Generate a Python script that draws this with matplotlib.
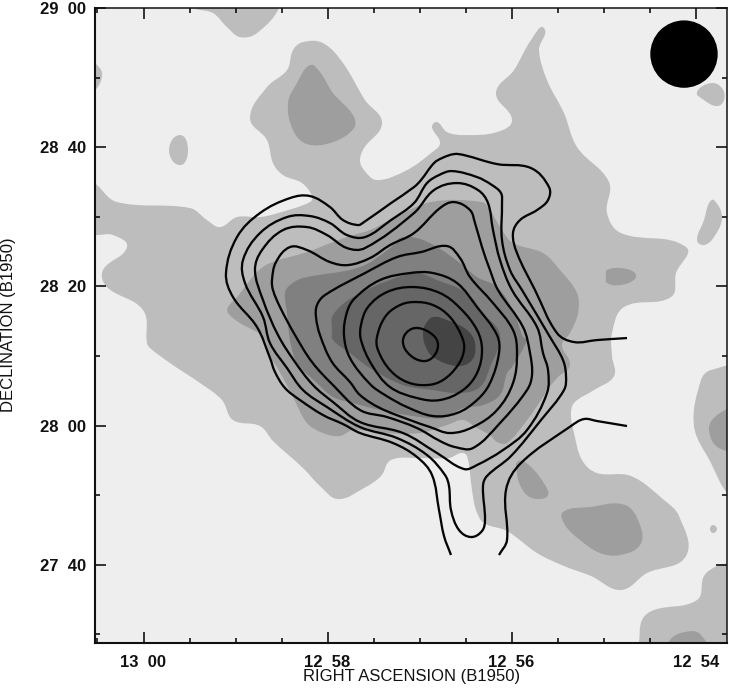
import numpy as np
import matplotlib
matplotlib.use("Agg")
import matplotlib.pyplot as plt
from matplotlib.path import Path
from matplotlib.patches import PathPatch, Ellipse

plt.rcParams['font.family'] = ['Liberation Sans', 'DejaVu Sans']

# Read-off plate positions (column, row) of each grey-scale boundary
level1_main = [(88,177),(97,185),(117,202),(190,208),(207,220),(220,227),(237,217),(260,217),(278,213),(310,202),(312,196),(302,183),(283,175),(273,163),(267,140),(250,118),(267,87),(287,70),(293,50),(303,42),(323,43),(343,63),(365,100),(382,123),(364,148),(360,160),(364,170),(377,180),(407,170),(431,153),(440,143),(432,127),(437,122),(447,132),(464,135),(497,132),(512,120),(496,93),(514,70),(531,40),(544,28),(539,50),(547,80),(564,113),(577,147),(609,182),(607,213),(621,233),(686,247),(676,273),(671,297),(624,307),(612,333),(612,356),(614,376),(594,390),(574,403),(571,416),(574,433),(582,460),(597,473),(631,476),(664,500),(679,516),(686,556),(647,573),(621,590),(591,576),(564,566),(537,553),(507,531),(484,523),(476,510),(472,490),(467,456),(461,453),(449,458),(421,458),(391,460),(381,476),(364,488),(338,499),(320,486),(303,468),(273,441),(260,426),(233,420),(222,400),(200,383),(170,363),(150,348),(147,343),(143,310),(107,287),(103,270),(127,247),(113,235),(97,235),(85,235),(80,205)]
level1_top = [(190,5),(213,13),(227,27),(240,37),(257,33),(280,5),(270,-5),(200,-5)]
level1_edge = [(88,60),(95,63),(102,73),(97,88),(88,92)]
level1_spot = [(180,135),(188,150),(180,165),(169,150)]
level1_beam = [(711,83),(722,88),(724,100),(717,106),(704,100),(697,92)]
level1_right = [(714,200),(722,217),(714,237),(704,245),(697,240),(704,220),(709,203)]
level1_lower = [(740,370),(711,370),(701,380),(694,426),(711,463),(727,493),(740,500)]
level1_dot = [(713,525),(717,529),(713,533),(710,529)]
level1_corner = [(637,655),(639,643),(642,620),(654,610),(697,600),(704,576),(717,566),(729,563),(745,560),(745,655)]

level2_top = [(310,65),(320,72),(333,93),(353,115),(354,128),(333,142),(307,144),(293,130),(288,103),(297,83)]
level2_main = [(228,307),(237,297),(257,272),(270,263),(307,252),(333,242),(353,235),(370,230),(390,220),(431,202),(482,202),(490,210),(502,230),(513,243),(543,253),(560,270),(577,293),(578,313),(570,333),(562,345),(570,365),(558,377),(547,390),(543,397),(527,420),(507,443),(497,442),(490,435),(477,428),(463,420),(447,425),(420,433),(385,433),(353,430),(340,436),(323,433),(307,423),(293,397),(277,367),(270,357),(263,337),(240,323),(228,313)]
level2_spot = [(607,270),(620,268),(634,272),(635,279),(620,285),(607,283),(606,276)]
level2_lobe = [(518,461),(530,466),(545,485),(548,495),(540,499),(528,496),(520,485),(517,473)]
level2_south = [(563,512),(590,507),(625,505),(640,525),(640,545),(620,555),(600,553),(580,540),(565,525)]
level2_east = [(740,405),(725,410),(712,420),(709,430),(715,445),(729,452),(740,455)]
level2_corner = [(668,655),(670,640),(685,632),(700,634),(707,655)]

level3_main = [(285,293),(290,285),(303,278),(360,267),(390,248),(400,238),(417,238),(437,247),(460,263),(477,277),(497,287),(513,310),(523,337),(527,340),(512,367),(507,373),(500,395),(483,405),(463,408),(443,418),(420,417),(380,410),(353,403),(333,397),(317,383),(297,363),(290,340),(287,313)]
level4_main = [(332,330),(333,315),(353,297),(390,280),(417,273),(437,280),(467,293),(483,313),(500,335),(490,367),(480,387),(460,393),(433,390),(403,385),(370,368),(350,353),(333,340)]
level5_main = [(425,325),(433,317),(447,320),(467,330),(475,343),(472,360),(457,366),(433,357),(425,345),(423,333)]

# Read-off contour traces
ring1 = [(418,328),(433,335),(438,345),(433,357),(423,361),(410,355),(403,343),(407,332)]
ring2 = [(413,302),(433,305),(450,317),(462,337),(464,350),(458,365),(443,380),(427,385),(407,382),(390,370),(378,350),(377,337),(385,317),(398,306)]
ring3 = [(413,287),(440,293),(460,308),(477,330),(482,350),(477,373),(463,390),(440,400),(417,398),(390,387),(372,365),(361,340),(361,325),(368,307),(387,292)]
ring4 = [(410,273),(433,273),(457,283),(477,307),(497,335),(499,353),(490,383),(477,400),(457,413),(433,416),(407,407),(385,395),(370,384),(350,358),(344,335),(347,312),(355,298),(380,280)]
ring5 = [(316,317),(317,305),(325,295),(365,273),(397,257),(421,252),(447,246),(460,258),(470,277),(493,303),(513,330),(517,353),(513,383),(497,410),(473,427),(450,433),(430,427),(410,420),(380,408),(360,395),(350,382),(332,362),(320,335)]
ring6 = [(272,280),(276,262),(290,247),(307,250),(330,262),(348,265),(370,258),(390,245),(414,233),(440,208),(454,202),(470,210),(475,223),(482,247),(490,270),(498,290),(523,327),(530,353),(532,375),(527,390),(500,423),(473,448),(455,447),(440,441),(417,428),(387,417),(360,410),(333,385),(312,362),(295,335),(280,307),(273,290)]
ring7 = [(255,270),(262,250),(283,230),(307,227),(327,235),(347,248),(365,248),(414,213),(434,190),(457,183),(478,190),(488,203),(493,230),(500,260),(512,290),(537,327),(543,353),(548,370),(547,393),(527,430),(503,450),(477,465),(464,469),(437,453),(403,433),(360,422),(333,402),(313,385),(295,362),(278,335),(263,300)]
ring8 = [(243,260),(260,233),(287,217),(310,216),(330,223),(347,235),(365,237),(391,220),(414,203),(427,183),(439,175),(452,171),(477,177),(492,185),(501,193),(502,203),(502,240),(510,270),(522,290),(550,337),(563,360),(566,376),(564,390),(541,420),(511,456),(487,476),(483,486),(485,520),(482,531),(471,537),(459,530),(451,510),(449,486),(445,475),(427,455),(397,438),(360,427),(327,407),(303,390),(287,368),(270,343),(263,317),(245,283)]
tail_north = [(627,338),(597,340),(574,342),(557,333),(535,290),(517,253),(513,233),(520,220),(537,210),(548,200),(549,187),(531,168),(497,164),(464,155),(454,154),(442,158),(434,163),(421,180),(414,187),(391,203),(364,222),(358,225),(343,220),(330,207),(310,196),(290,198),(260,213),(237,237),(226,273),(233,297),(257,327),(270,358),(275,372),(285,388),(300,400),(323,415),(343,424),(360,433),(393,443),(417,457),(432,475),(439,510),(444,536),(451,555)]
tail_south = [(627,426),(597,421),(584,419),(571,426),(521,463),(506,490),(507,540),(499,555)]

beam_centre = (684, 54)
beam_radius = 33

ra_major = [780, 778, 776, 774]
ra_major_labels = ['13  00', '12  58', '12  56', '12  54']
ra_minor = [780.5, 779.5, 779, 778.5, 777.5, 777, 776.5, 775.5, 775, 774.5]
dec_major = [1740, 1720, 1700, 1680, 1660]
dec_major_labels = ['29  00', '28  40', '28  20', '28  00', '27  40']
dec_minor = [1730, 1710, 1690, 1670, 1650]

greys = ['#eeeeee', '#bdbdbd', '#9e9e9e', '#808080', '#666666', '#444444']


def ra_of(col):
    return 780 - (np.asarray(col, float) - 143.5) / 92.03


def dec_of(row):
    return 1660 + (564.7 - np.asarray(row, float)) / 6.959


def smooth(points, closed=True):
    """Bezier path through the read-off points, expressed in RA / Dec."""
    p = np.array(points, float)
    n = len(p)
    if closed:
        chord = np.roll(p, -1, axis=0) - np.roll(p, 1, axis=0)
    else:
        chord = np.empty_like(p)
        chord[1:-1] = p[2:] - p[:-2]
        chord[0], chord[-1] = p[1] - p[0], p[-1] - p[-2]
    unit = chord / np.maximum(np.hypot(*chord.T), 1e-9)[:, None]
    verts, codes = [p[0]], [Path.MOVETO]
    for i in range(n if closed else n - 1):
        j = (i + 1) % n
        h = np.hypot(*(p[j] - p[i])) * 0.36
        verts += [p[i] + unit[i] * h, p[j] - unit[j] * h, p[j]]
        codes += [Path.CURVE4] * 3
    v = np.array(verts)
    return Path(np.column_stack([ra_of(v[:, 0]), dec_of(v[:, 1])]), codes)


fig = plt.figure(figsize=(7.29, 6.88), dpi=100)
ax = fig.add_axes([95 / 729, 1 - 643 / 688, 632 / 729, 635 / 688])
ax.set_facecolor(greys[0])

layers = [
    (1, [level1_main, level1_top, level1_edge, level1_spot, level1_beam, level1_right,
         level1_lower, level1_dot, level1_corner]),
    (2, [level2_top, level2_main, level2_spot, level2_lobe, level2_south, level2_east, level2_corner]),
    (3, [level3_main]),
    (4, [level4_main]),
    (5, [level5_main]),
]
for level, shapes in layers:
    for shape in shapes:
        ax.add_patch(PathPatch(smooth(shape), facecolor=greys[level], edgecolor='none', zorder=level))

for ring in [ring1, ring2, ring3, ring4, ring5, ring6, ring7, ring8]:
    ax.add_patch(PathPatch(smooth(ring), facecolor='none', edgecolor='#050505', lw=1.65, zorder=7))
for tail in [tail_north, tail_south]:
    ax.add_patch(PathPatch(smooth(tail, closed=False), facecolor='none', edgecolor='#050505', lw=1.65, zorder=7))

ax.add_patch(Ellipse((float(ra_of(beam_centre[0])), float(dec_of(beam_centre[1]))),
                     2 * beam_radius / 92.03, 2 * beam_radius / 6.959, color='black', zorder=8))

ax.set_xticks(ra_major, ra_major_labels)
ax.set_xticks(ra_minor, minor=True)
ax.set_yticks(dec_major, dec_major_labels)
ax.set_yticks(dec_minor, minor=True)
ax.set_xlim(ra_of(95), ra_of(727))
ax.set_ylim(dec_of(643), dec_of(7.9))
ax.tick_params(which='major', direction='in', length=8, width=1.1, top=True, right=True,
               labelsize=12, pad=8.6, colors='black')
ax.tick_params(which='minor', direction='in', length=3.6, width=1.1, top=True, right=True)
ax.tick_params(axis='y', which='major', pad=6.5)
for lab in ax.get_xticklabels() + ax.get_yticklabels():
    lab.set_fontweight('bold')
    lab.set_color('#111111')

for side, lw in [('left', 1.5), ('bottom', 1.5), ('top', 1.1), ('right', 1.1)]:
    ax.spines[side].set_linewidth(lw)
    ax.spines[side].set_color('#111111')

fig.text(411.5 / 729, 1 - 677 / 688, 'RIGHT ASCENSION (B1950)', ha='center', va='center',
         fontsize=12, color='#111111')
fig.text(9 / 729, 1 - 325 / 688, 'DECLINATION (B1950)', ha='center', va='center',
         rotation=90, fontsize=12, color='#111111')

fig.savefig('out.png', dpi=100)
